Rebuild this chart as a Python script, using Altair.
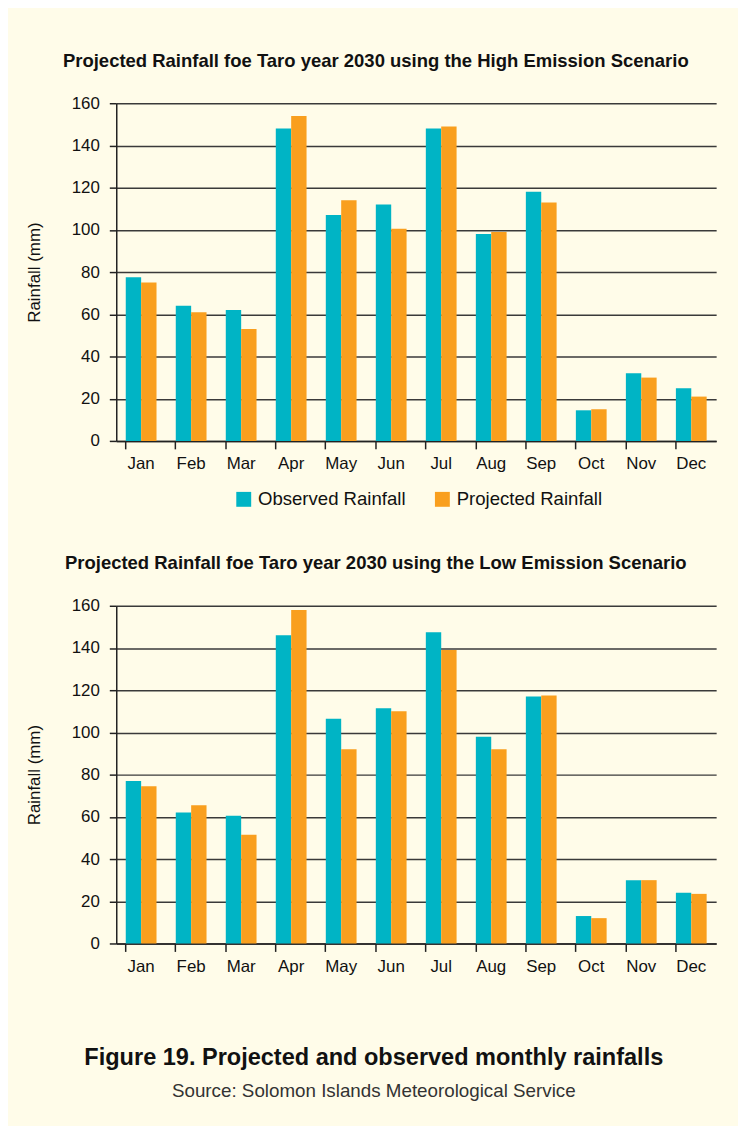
import altair as alt
import pandas as pd

months = ["Jan", "Feb", "Mar", "Apr", "May", "Jun", "Jul", "Aug", "Sep", "Oct", "Nov", "Dec"]
series = ["Observed Rainfall", "Projected Rainfall"]

obs_high = [77.5, 64, 62, 148, 107, 112, 148, 98, 118, 14.5, 32, 25]
proj_high = [75, 61, 53, 154, 114, 100.5, 149, 99, 113, 15, 30, 21]

obs_low = [77, 62, 60.5, 146, 106.5, 111.5, 147.5, 98, 117, 13, 30, 24]
proj_low = [74.5, 65.5, 51.5, 158, 92, 110, 139, 92, 117.5, 12, 30, 23.5]

title_high = "Projected Rainfall foe Taro year 2030 using the High Emission Scenario"
title_low = "Projected Rainfall foe Taro year 2030 using the Low Emission Scenario"
caption = "Figure 19. Projected and observed monthly rainfalls"
source = "Source: Solomon Islands Meteorological Service"

TEAL = "#00B4C5"
ORANGE = "#F99F1E"
BG = "#FFFCE9"
FONT = "Liberation Sans"


def panel(title, obs, proj):
    rows = []
    for m, o, p in zip(months, obs, proj):
        rows.append({"Month": m, "Series": series[0], "Rainfall": o})
        rows.append({"Month": m, "Series": series[1], "Rainfall": p})
    df = pd.DataFrame(rows)
    return alt.Chart(df).mark_bar().encode(
        x=alt.X(
            "Month:N",
            sort=months,
            scale=alt.Scale(paddingInner=0.385, paddingOuter=0.19),
            axis=alt.Axis(
                title=None, labelAngle=0, bandPosition=0, tickSize=8,
                labelPadding=7, labelFontSize=17, labelColor="#111",
                domainColor="#222", tickColor="#222", domainWidth=1.5, tickWidth=1.5,
            ),
        ),
        xOffset=alt.XOffset("Series:N", sort=series,
                            scale=alt.Scale(paddingInner=0, paddingOuter=0)),
        y=alt.Y(
            "Rainfall:Q",
            scale=alt.Scale(domain=[0, 160], nice=False),
            axis=alt.Axis(
                title="Rainfall (mm)", values=list(range(0, 161, 20)),
                tickSize=7, labelPadding=10, labelFontSize=17, labelColor="#111",
                titleFontSize=17, titleFontWeight="normal", titleColor="#111",
                titlePadding=28, grid=True, gridColor="#3a3a3a", gridWidth=1.5,
                domainColor="#222", tickColor="#222", domainWidth=1.5, tickWidth=1.5,
            ),
        ),
        color=alt.Color(
            "Series:N",
            scale=alt.Scale(domain=series, range=[TEAL, ORANGE]),
            legend=alt.Legend(
                orient="none", legendX=119, legendY=389, direction="horizontal",
                title=None, symbolType="square", symbolSize=225,
                symbolStrokeWidth=0, labelFontSize=18.7, labelOffset=5,
                columnPadding=27, labelColor="#111",
            ),
        ),
    ).properties(
        width=604,
        height=340,
        title=alt.TitleParams(
            text=title, fontSize=18.6, fontWeight="bold", color="#111",
            anchor="middle", frame="bounds", offset=24, dx=5,
        ),
    )


chart = alt.vconcat(
    panel(title_high, obs_high, proj_high),
    panel(title_low, obs_low, proj_low),
    spacing=83,
).properties(
    title=alt.TitleParams(
        text=caption, subtitle=source, orient="bottom", anchor="middle",
        frame="bounds", fontSize=23.7, fontWeight="bold", color="#111",
        subtitleFontSize=18.9, subtitleColor="#333", subtitlePadding=13,
        offset=72, dx=3,
    ),
    padding={"left": 17, "top": 40, "right": 22, "bottom": 35},
    background=BG,
).configure(
    font=FONT,
).configure_view(
    stroke=None,
)

chart.save("out.html", embed_options={"renderer": "svg", "actions": False})
